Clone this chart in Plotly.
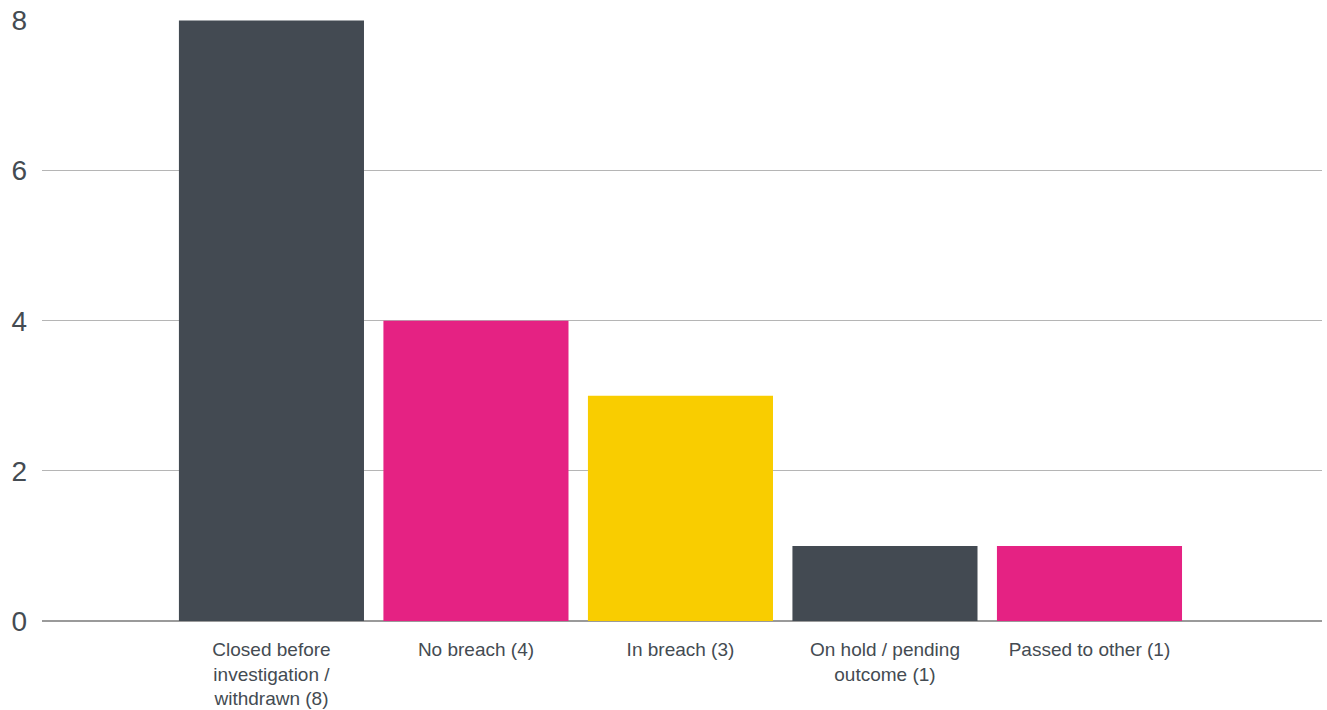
import plotly.graph_objects as go

categories = ["Closed before<br>investigation /<br>withdrawn (8)", "No breach (4)", "In breach (3)",
              "On hold / pending<br>outcome (1)", "Passed to other (1)"]
values = [8, 4, 3, 1, 1]
colors = ["#434a52", "#e52283", "#f9cd00", "#434a52", "#e52283"]
y_ticks = [0, 2, 4, 6, 8]

fig = go.Figure(go.Bar(x=categories, y=values, marker=dict(color=colors, line=dict(width=0)),
                       hoverinfo="x+y"))

fig.update_layout(
    width=1327, height=710,
    margin=dict(l=42, r=5, t=20, b=89, autoexpand=False),
    paper_bgcolor="white", plot_bgcolor="white",
    bargap=0.095,
    showlegend=False,
    font=dict(family="Liberation Sans, Arial, sans-serif", color="#444b52"),
    xaxis=dict(range=[-1.122, 5.137], showgrid=False, showline=False, zeroline=False,
               tickfont=dict(size=19, color="#444b52"), ticks="", tickangle=0,
               ticklabelstandoff=15, automargin=False, fixedrange=True),
    yaxis=dict(range=[0, 8.005], tickvals=y_ticks, showgrid=True, gridcolor="#b5b5b5", gridwidth=1,
               zeroline=True, zerolinecolor="#9a9a9a", zerolinewidth=2, showline=False,
               tickfont=dict(size=28, color="#444b52"), ticks="", ticklabelstandoff=14,
               automargin=False, fixedrange=True),
)

fig.write_html("out.html", config={"displayModeBar": False},
               post_script="document.body.style.margin='0';document.body.style.overflow='hidden';")
